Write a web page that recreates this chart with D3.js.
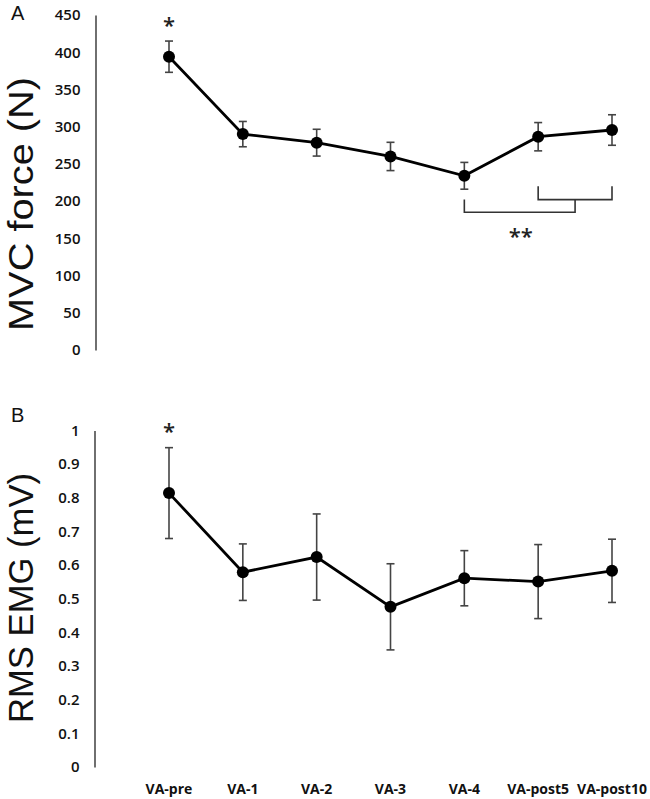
<!DOCTYPE html>
<html><head><meta charset="utf-8">
<script src="https://cdn.jsdelivr.net/npm/d3@7"></script>
<style>body{margin:0;background:#fff}svg{display:block}</style>
</head><body>
<script>
const categories = ["VA-pre","VA-1","VA-2","VA-3","VA-4","VA-post5","VA-post10"];
const mvcMean = [394, 290, 278.5, 260, 234, 286.5, 295.5];
const mvcErr  = [21, 17, 18, 19, 18, 19, 20.5];
const emgMean = [0.814, 0.579, 0.624, 0.476, 0.561, 0.551, 0.583];
const emgErr  = [0.135, 0.084, 0.128, 0.128, 0.082, 0.11, 0.094];
const mvcTicks = [0,50,100,150,200,250,300,350,400,450];
const emgTicks = [0,0.1,0.2,0.3,0.4,0.5,0.6,0.7,0.8,0.9,1];

const W = 650, H = 799;
const svg = d3.select("body").append("svg").attr("width", W).attr("height", H);

const x = d3.scalePoint().domain(categories).range([169, 612]);
const starFont = "'Open Sans', sans-serif";

function panel(opts){
  const g = svg.append("g");
  const y = d3.scaleLinear().domain(opts.domain).range(opts.range);
  const ax = d3.axisLeft(y).tickValues(opts.ticks).tickSize(0).tickPadding(15)
    .tickFormat(opts.fmt);
  const axG = g.append("g").attr("transform", `translate(${opts.axisX},0)`).call(ax);
  axG.select(".domain").attr("stroke", "#333").attr("stroke-width", 1.4);
  axG.selectAll("text").attr("font-family", "'Open Sans', sans-serif")
     .attr("font-weight", 600).attr("font-size", 15).attr("fill", "#111");
  g.append("text").attr("transform", `translate(${opts.titleX},${opts.titleY}) rotate(-90)`)
    .attr("text-anchor", "middle").attr("font-family", "'Liberation Sans', Arial, sans-serif")
    .attr("font-size", 35).attr("textLength", opts.titleLen).attr("lengthAdjust", "spacingAndGlyphs")
    .attr("fill", "#111").text(opts.title);
  g.append("text").attr("x", 11).attr("y", opts.letterY)
    .attr("font-family", "'Liberation Sans', Arial, sans-serif").attr("font-size", 20)
    .attr("fill", "#111").text(opts.letter);
  const eb = g.append("g").attr("stroke", "#444").attr("stroke-width", 1.6);
  categories.forEach((c, i) => {
    const cx = x(c), hi = y(opts.mean[i] + opts.err[i]), lo = y(opts.mean[i] - opts.err[i]);
    eb.append("line").attr("x1", cx).attr("x2", cx).attr("y1", hi).attr("y2", lo);
    eb.append("line").attr("x1", cx-4).attr("x2", cx+4).attr("y1", hi).attr("y2", hi);
    eb.append("line").attr("x1", cx-4).attr("x2", cx+4).attr("y1", lo).attr("y2", lo);
  });
  const line = d3.line().x((d, i) => x(categories[i])).y(d => y(d));
  g.append("path").datum(opts.mean).attr("d", line).attr("fill", "none")
    .attr("stroke", "#000").attr("stroke-width", 2.8);
  g.selectAll("circle.pt").data(opts.mean).join("circle").attr("class", "pt")
    .attr("cx", (d, i) => x(categories[i])).attr("cy", d => y(d)).attr("r", 6).attr("fill", "#000");
  g.append("text").attr("x", x(categories[0])).attr("y", opts.starY).attr("text-anchor", "middle")
    .attr("font-family", starFont).attr("font-weight", 600).attr("font-size", 22).attr("fill", "#222").text("*");
  return {g, y};
}

const panelA = panel({domain:[0,450], range:[350,15], ticks:mvcTicks, fmt:d3.format("d"), axisX:95.5,
  title:"MVC force (N)", titleX:33, titleY:204, titleLen:254, letter:"A", letterY:20, mean:mvcMean, err:mvcErr, starY:33});

const bk = panelA.g.append("g").attr("stroke", "#333").attr("stroke-width", 1.6).attr("fill", "none");
const yb = panelA.y;
const xi = x("VA-post5"), xj = x("VA-post10"), xk = x("VA-4");
const mid = (xi + xj) / 2;
bk.append("path").attr("d", `M${xi},${yb(220)}V${yb(202)}H${xj}V${yb(220)}`);
bk.append("path").attr("d", `M${xk},${yb(202)}V${yb(185)}H${mid}V${yb(202)}`);
panelA.g.append("text").attr("x", (xk + mid) / 2 + 1).attr("y", 244).attr("text-anchor", "middle")
  .attr("font-family", starFont).attr("font-weight", 600).attr("font-size", 22).attr("fill", "#222").text("**");

const panelB = panel({domain:[0,1], range:[767,430.5], ticks:emgTicks, fmt:d => d3.format("")(d), axisX:94.5,
  title:"RMS EMG (mV)", titleX:33, titleY:598, titleLen:250, letter:"B", letterY:422, mean:emgMean, err:emgErr, starY:439});

svg.append("g").selectAll("text").data(categories).join("text")
  .attr("x", d => x(d)).attr("y", 794).attr("text-anchor", "middle")
  .attr("font-family", "'Open Sans', sans-serif").attr("font-weight", 700).attr("font-size", 14)
  .attr("fill", "#111").text(d => d);
</script>
</body></html>
